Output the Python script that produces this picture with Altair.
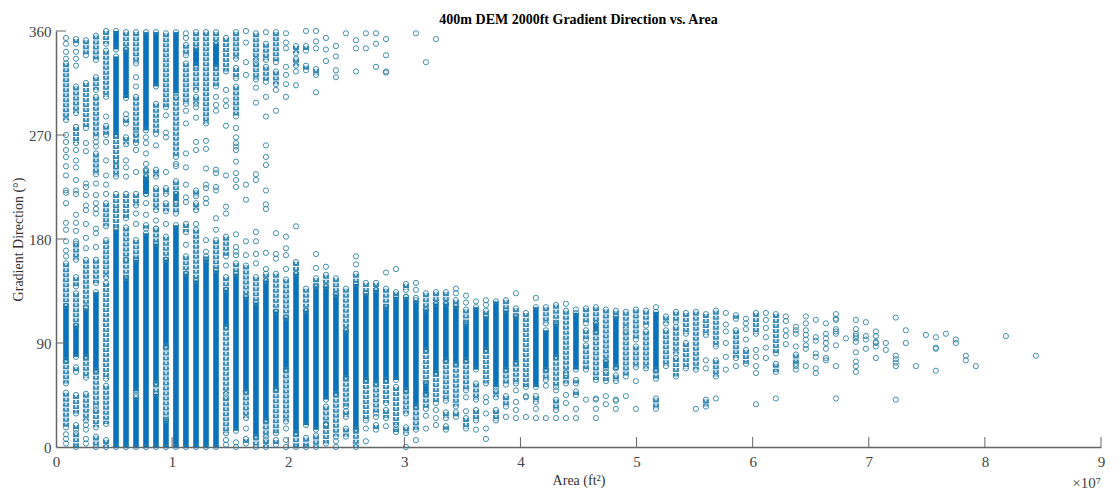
import altair as alt
import pandas as pd

TITLE = "400m DEM 2000ft Gradient Direction vs. Area"
X_TITLE = "Area (ft\u00b2)"
Y_TITLE = "Gradient Direction (\u00b0)"
X_TICKS = [0, 1e7, 2e7, 3e7, 4e7, 5e7, 6e7, 7e7, 8e7, 9e7]
Y_TICKS = [0, 90, 180, 270, 360]

# area of each column of cells, in millions of square feet
AREA = [0.86,1.72,2.58,3.44,4.31,5.17,6.03,6.89,7.75,8.61,9.47,10.33,11.19,12.06,12.92,13.78,14.64,15.50,16.36,17.22,
        18.08,18.94,19.81,20.67,21.53,22.39,23.25,24.11,24.97,25.83,26.69,27.56,28.42,29.28,30.14,31.00,31.86,32.72,33.58,34.44,
        35.31,36.17,37.03,37.89,38.75,39.61,40.47,41.33,42.19,43.06,43.92,44.78,45.64,46.50,47.36,48.22,49.08,49.94,50.81,51.67,
        52.53,53.39,54.25,55.11,55.97,56.83,57.69,58.56,59.42,60.28,61.14,62.00,62.86,63.72,64.58,65.44,66.31,67.17,68.03,68.89,
        69.75,70.61,71.47,72.33,73.19,74.06,74.92,75.78,76.64,77.50,78.36,79.22,80.08,80.94,81.81,82.67,83.53,84.39]

# column number -> direction ranges where the circles merge into a solid band
SOLID = {
1:[[122,75]],2:[[105,78]],3:[[120,78]],4:[[134,66]],6:[[360,344],[338,270],[188,0]],7:[[344,302],[146,0]],
8:[[162,48],[43,0]],9:[[359,274],[234,219],[185,0]],10:[[359,312],[176,55],[46,0]],11:[[162,87],[23,0]],
12:[[359,306],[219,213],[192,0]],13:[[150,0]],14:[[345,330],[144,0]],15:[[162,0]],16:[[349,329],[153,0]],
17:[[136,104]],18:[[150,14]],19:[[130,48]],20:[[125,9]],21:[[144,23]],22:[[117,50]],23:[[112,67]],24:[[150,12]],
25:[[118,19]],26:[[139,15]],27:[[139,41]],28:[[132,46]],29:[[101,60]],30:[[141,15]],31:[[133,58]],32:[[136,55]],
33:[[121,58]],34:[[130,58]],35:[[130,49]],36:[[127,35]],37:[[119,84],[55,46]],38:[[124,64]],39:[[124,75]],40:[[122,72]],
41:[[107,75]],42:[[121,67]],43:[[113,84]],44:[[126,52]],45:[[118,67]],46:[[113,73]],48:[[121,52]],49:[[101,67]],
50:[[107,78]],52:[[116,67]],54:[[107,100]],55:[[74,68]],56:[[113,69]],60:[[117,67]],
}

# column number -> direction ranges where the circles overlap but stay distinct
LOOSE = {
1:[[332,283],[159,122],[75,55],[47,17]],
2:[[353,349],[312,289],[277,263],[176,162],[147,139],[133,105],[69,65],[45,29],[19,15],[12,0]],
3:[[352,339],[315,276],[162,121],[78,60],[46,23]],
4:[[356,335],[320,309],[303,268],[254,236],[162,142],[66,35],[32,17],[9,0]],
5:[[360,349],[343,303],[278,270],[211,191],[179,147],[142,59],[53,20],[6,0]],
6:[[270,243],[248,234],[219,190]],
7:[[359,344],[284,280],[268,262],[219,198],[190,162],[162,146]],
8:[[359,332],[303,274],[271,263],[219,209],[179,162]],
9:[[240,219],[192,189]],
10:[[297,271],[240,234],[224,205],[189,176],[55,46]],
11:[[358,294],[224,219],[211,204],[182,162],[87,23]],
12:[[303,251],[230,219],[211,202]],
13:[[348,339],[332,297],[193,186],[165,150]],
14:[[359,309],[303,297],[222,217],[211,205],[188,144]],
15:[[359,280],[165,162]],
16:[[359,312],[179,153]],
17:[[354,325],[182,165],[147,136],[104,46],[43,12]],
18:[[359,336],[328,319],[312,286],[159,150]],
19:[[157,130],[48,25],[7,3]],
20:[[358,335],[332,318],[147,125],[9,0]],
21:[[349,335],[329,316],[150,144],[23,9],[6,0]],
22:[[359,333],[325,314],[150,117],[50,12],[6,2]],
23:[[145,112],[67,22]],
24:[[347,341],[336,330],[160,150],[12,0]],
25:[[347,343],[330,326],[137,118],[8,0]],
26:[[327,322],[146,139],[10,0]],
27:[[149,139],[35,20],[19,3]],
28:[[146,132],[46,9]],
29:[[137,101],[60,35],[31,26],[16,9]],
30:[[150,141],[15,0]],
31:[[142,133],[58,23]],
32:[[142,136],[55,29],[19,15]],
33:[[137,121],[58,38],[32,25]],
34:[[134,130],[52,19],[16,13]],
35:[[141,136],[49,29],[17,12]],
36:[[35,15]],
37:[[133,119],[84,55],[46,33]],
38:[[134,124],[64,38]],
39:[[134,124],[75,40],[30,25],[18,15]],
40:[[127,122],[72,35],[30,26]],
41:[[119,107],[75,49],[25,16]],
42:[[55,41],[32,23]],
43:[[118,113],[84,55]],
44:[[49,43],[32,23]],
45:[[127,118],[67,54],[44,35]],
46:[[120,113],[73,55]],
47:[[116,52]],
48:[[44,39]],
49:[[121,107],[67,58]],
50:[[123,107],[78,52],[41,32]],
51:[[118,64],[62,55]],
52:[[58,55],[48,45]],
53:[[120,107],[101,93],[88,67]],
54:[[121,107],[100,58]],
55:[[119,74],[65,57]],
56:[[118,113],[69,68],[62,57]],
57:[[117,103],[100,61]],
58:[[119,93],[87,69]],
59:[[118,105],[100,68]],
60:[[67,59],[42,33]],
61:[[113,107],[101,70]],
62:[[117,108],[104,81],[77,61]],
63:[[116,98],[90,68]],
64:[[117,67]],
65:[[115,97],[41,35]],
66:[[118,87],[75,61]],
68:[[114,111],[101,77]],
69:[[84,72]],
70:[[116,98]],
72:[[115,81],[72,65]],
74:[[80,72]],
}

# column number -> directions of single, separately visible circles
RINGS = {
1:[354,349,342,336,270,264,257,251,243,235,222,220,211,194,188,178,170,165,11,7,3],
2:[342,336,330,257,248,242,231,222,219,201,194,187,178],
3:[263,256,228,225,218,209,205,193,181,172,19,15,7,3],
4:[264,260,228,218,211,206,202,189,185,173],
5:[286,264,248,235,227,219],
6:[205],
7:[288,248,242,234],
8:[320,312,257,238,202,193,45],
9:[268,263,254,245,239,211,201],
10:[261,196,189],
11:[287,272,268,238,193],
12:[245,243],
13:[358,354,291,280,254,242,227,216,212,175],
14:[294,285,264,257,193],
15:[265,258,241,227,224,215,211,179,169],
16:[303,296,291,240,237,225,222,198,188],
17:[309,300,295,278,235,208,202,157,6,2],
18:[276,268,263,260,257,247,237,231,225,184,173,169,166,4,0],
19:[360,350,333,322,227,214,178,166,16],
20:[311,298,236,231,186,178,167,159],
21:[359,303,286,261,251,244,222,210,206,168,154],
22:[309,291,185,167,163],
23:[358,350,345,329,322,314,303,182,172,166,154,16,6,0],
24:[325,313,191],
25:[360],
26:[360,351,345,307,167,155],
27:[354,344,334,156],
28:[347,338,326,320,5,0],
29:[358],
30:[352,345,325,165,158],
31:[358,345,16,5],
32:[358,349,329,26],
33:[353,339,325,324,151,18],
34:[154],
35:[130,0],
36:[358,142,136,129,6],
37:[333,27,16],
38:[353,32,25,19],
40:[137,133],
41:[131,125,43,31],
42:[126,15],
43:[127,123,43,39,29,16,7],
45:[26],
46:[133,49,39,32,25],
47:[44,43,26],
48:[129,33,25],
49:[53,25],
50:[49,25],
51:[124,45,38,25],
52:[119,33,25],
53:[41],
54:[42,41,33,25],
55:[44,37],
56:[41,40,33],
57:[44],
58:[57,33],
60:[121],
64:[33],
65:[75,68],
66:[42],
67:[116,106,100,90,78,67],
68:[70],
69:[111,107,102,93],
70:[84,78,70,64,37],
71:[116,110,103,95,86,77],
72:[42],
73:[113,109,101,96,89],
74:[104,101,98,87,70,67],
75:[113,107,101,97,93,88,85,70],
76:[110,95,92,81,78,68,64],
77:[107,98,94,90,85,77,75],
78:[115,111,110,102,100,98,88,70,42],
79:[94],
80:[110,102,98,96,94,91,82,74,70,65],
81:[108,96,93,85],
82:[100,96,91,90,87,77],
83:[90,84],
84:[112,79,76,73,70,41],
85:[101,90],
86:[70],
87:[97],
88:[95,86,85,66],
89:[98],
90:[93,90],
91:[79,75],
92:[70],
95:[96],
98:[79],
}

solid_df = pd.DataFrame([{"x": AREA[k-1]*1e6, "y": a, "y2": b} for k, v in SOLID.items() for a, b in v])
loose_df = pd.DataFrame([{"x": AREA[k-1]*1e6, "y": a, "y2": b} for k, v in LOOSE.items() for a, b in v])
# the ends of each band are circles too
end_rows = [{"x": AREA[k-1]*1e6, "y": e} for src in (SOLID, LOOSE) for k, v in src.items() for s in v for e in s]
ring_rows = [{"x": AREA[k-1]*1e6, "y": y} for k, v in RINGS.items() for y in v]
ring_df = pd.DataFrame(ring_rows + end_rows)

FONT = "Liberation Serif"
x_scale = alt.Scale(domain=[0, 9e7], nice=False, zero=False)
y_scale = alt.Scale(domain=[0, 360], nice=False, zero=False)
x_enc = alt.X("x:Q", scale=x_scale, axis=alt.Axis(
    values=X_TICKS, labelExpr="datum.value / 10000000", title=X_TITLE, grid=False, ticks=False,
    domainColor="#666666", domainWidth=1.5, labelColor="#444444", labelFont=FONT, labelFontSize=15,
    labelPadding=7, titleFont=FONT, titleFontSize=14, titleFontWeight="normal", titleColor="#333333",
    titlePadding=4, labelFlush=False))
y_enc = alt.Y("y:Q", scale=y_scale, axis=alt.Axis(
    values=Y_TICKS, title=Y_TITLE, grid=False, ticks=False,
    domainColor="#666666", domainWidth=1.5, labelColor="#444444", labelFont=FONT, labelFontSize=15,
    labelPadding=5, titleFont=FONT, titleFontSize=14, titleFontWeight="normal", titleColor="#333333",
    titlePadding=3))

loose = alt.Chart(loose_df).mark_rule(color="#3a8cbd", strokeWidth=6, strokeDash=[4, 1]).encode(
    x=x_enc, y=y_enc, y2="y2:Q")
loose_core = alt.Chart(loose_df).mark_rule(color="#c6deeb", strokeWidth=2, strokeDash=[2.5, 2.5]).encode(
    x=alt.X("x:Q", scale=x_scale), y=alt.Y("y:Q", scale=y_scale), y2="y2:Q")
solid = alt.Chart(solid_df).mark_rule(color="#0a72ba", strokeWidth=5.6).encode(
    x=alt.X("x:Q", scale=x_scale), y=alt.Y("y:Q", scale=y_scale), y2="y2:Q")
rings = alt.Chart(ring_df).mark_point(shape="circle", size=27, filled=False, stroke="#2f83a8",
                                      strokeWidth=1, opacity=0.9).encode(
    x=alt.X("x:Q", scale=x_scale), y=alt.Y("y:Q", scale=y_scale))

x_tick_df = pd.DataFrame({"x": X_TICKS[1:], "y": [0]*9, "y2": [8.6]*9})
y_tick_df = pd.DataFrame({"y": Y_TICKS[1:], "x": [0]*4, "x2": [0.086e7]*4})
x_ticks = alt.Chart(x_tick_df).mark_rule(color="#666666", strokeWidth=1).encode(
    x=alt.X("x:Q", scale=x_scale), y=alt.Y("y:Q", scale=y_scale), y2="y2:Q")
y_ticks = alt.Chart(y_tick_df).mark_rule(color="#666666", strokeWidth=1).encode(
    y=alt.Y("y:Q", scale=y_scale), x=alt.X("x:Q", scale=x_scale), x2="x2:Q")

exp_df = pd.DataFrame({"x": [9e7], "y": [0], "t": ["\u00d710\u2077"]})
exponent = alt.Chart(exp_df).mark_text(font=FONT, fontSize=15, color="#444444", align="right", baseline="middle", dy=36).encode(
    x=alt.X("x:Q", scale=x_scale), y=alt.Y("y:Q", scale=y_scale), text="t:N")

chart = alt.layer(loose, loose_core, solid, rings, x_ticks, y_ticks, exponent).properties(
    width=1045, height=416,
    padding={"left": 48, "top": 23, "right": 10, "bottom": 46},
    autosize=alt.AutoSizeParams(type="none"),
    title=alt.TitleParams(TITLE, font=FONT, fontSize=14, fontWeight="bold", color="#000000",
                          anchor="middle", offset=-3),
).configure_view(stroke=None)

chart.save("out.html", embed_options={"renderer": "svg", "actions": False})
